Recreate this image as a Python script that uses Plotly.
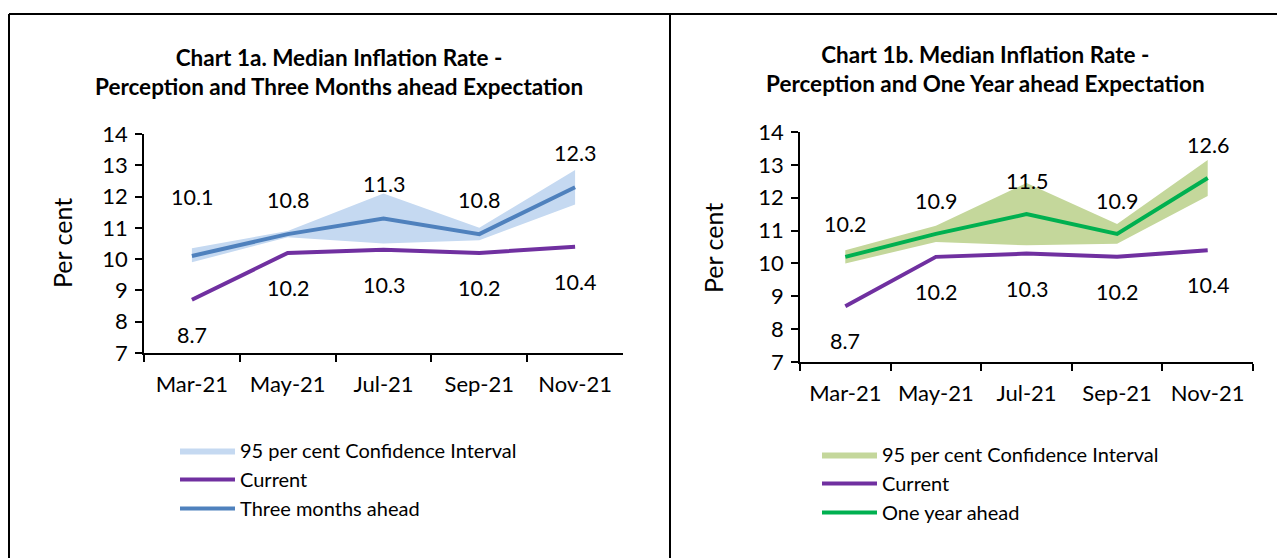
import plotly.graph_objects as go

months = ["Mar-21", "May-21", "Jul-21", "Sep-21", "Nov-21"]
current = [8.7, 10.2, 10.3, 10.2, 10.4]
three_months = [10.1, 10.8, 11.3, 10.8, 12.3]
three_lower = [9.9, 10.7, 10.5, 10.6, 11.75]
three_upper = [10.35, 10.9, 12.1, 11.0, 12.85]
one_year = [10.2, 10.9, 11.5, 10.9, 12.6]
one_lower = [10.0, 10.65, 10.55, 10.6, 12.05]
one_upper = [10.4, 11.15, 12.45, 11.2, 13.15]

# The page body has an 8px margin, so the figure is offset by 8px.
OFF = 8
W, H = 1285 - OFF, 558 - OFF
FONT = "Lato"
PURPLE = "#7030A0"
BLUE = "#4F81BD"
BLUE_BAND = "#C5D9F1"
GREEN = "#00B050"
GREEN_BAND = "#C4D79B"

def px_x(p):
    return (p - OFF) / W

def px_y(p):
    return 1 - (p - OFF) / H

fig = go.Figure()

def add_chart(xa, ya, leg, lower, upper, band_col, exp, exp_col, exp_name, exp_shift):
    fig.add_trace(go.Scatter(x=months, y=lower, xaxis=xa, yaxis=ya, mode="lines",
                             line=dict(width=0, color=band_col), showlegend=False,
                             hoverinfo="skip", legend=leg))
    fig.add_trace(go.Scatter(x=months, y=upper, xaxis=xa, yaxis=ya, mode="lines",
                             line=dict(width=0, color=band_col), fill="tonexty",
                             fillcolor=band_col, name="95 per cent Confidence Interval",
                             legend=leg))
    fig.add_trace(go.Scatter(x=months, y=current, xaxis=xa, yaxis=ya, mode="lines",
                             line=dict(width=4, color=PURPLE), name="Current", legend=leg))
    fig.add_trace(go.Scatter(x=months, y=exp, xaxis=xa, yaxis=ya, mode="lines",
                             line=dict(width=4, color=exp_col), name=exp_name, legend=leg))
    for m, v, s in zip(months, exp, exp_shift):
        fig.add_annotation(x=m, y=v, xref=xa, yref=ya, text=f"{v:.1f}", showarrow=False,
                           xanchor="center", yanchor="middle",
                           yshift=s, font=dict(family=FONT, size=21.5, color="black"))
    for m, v in zip(months, current):
        fig.add_annotation(x=m, y=v, xref=xa, yref=ya, text=f"{v:.1f}", showarrow=False,
                           xanchor="center", yanchor="middle",
                           yshift=-35, font=dict(family=FONT, size=21.5, color="black"))

add_chart("x", "y", "legend", three_lower, three_upper, BLUE_BAND, three_months, BLUE,
          "Three months ahead", [59, 34, 34, 34, 34])
add_chart("x2", "y2", "legend2", one_lower, one_upper, GREEN_BAND, one_year, GREEN,
          "One year ahead", [33, 33, 33, 33, 33])

axis_common = dict(showgrid=False, zeroline=False, showline=True, linecolor="black",
                   linewidth=1.5, ticks="outside", ticklen=7, tickcolor="black",
                   tickwidth=1.5, automargin=False)
xaxis_common = dict(type="category", tickson="boundaries", range=[-0.5, 4.5],
                    ticklabelstandoff=11,
                    tickfont=dict(family=FONT, size=22, color="black"), **axis_common)
yaxis_common = dict(range=[7, 14], dtick=1, ticklabelstandoff=3,
                    tickfont=dict(family=FONT, size=22, color="black"), **axis_common)

legend_common = dict(xanchor="left", yanchor="top", traceorder="normal",
                     font=dict(family=FONT, size=20, color="black"), itemwidth=55,
                     bgcolor="rgba(0,0,0,0)", tracegroupgap=0)

fig.update_layout(
    width=W, height=H, autosize=False,
    margin=dict(l=0, r=0, t=0, b=0, pad=0, autoexpand=False),
    paper_bgcolor="white", plot_bgcolor="white",
    xaxis=dict(domain=[px_x(144), px_x(623)], anchor="y", **xaxis_common),
    yaxis=dict(domain=[px_y(353), px_y(134)], anchor="x", **yaxis_common),
    xaxis2=dict(domain=[px_x(800), px_x(1253)], anchor="y2", **xaxis_common),
    yaxis2=dict(domain=[px_y(362), px_y(132)], anchor="x2", **yaxis_common),
    legend=dict(x=px_x(175), y=px_y(431), **legend_common),
    legend2=dict(x=px_x(817), y=px_y(435), **legend_common),
    showlegend=True,
)

# Titles
fig.add_annotation(x=px_x(339), y=px_y(72), xref="paper", yref="paper", showarrow=False,
                   xanchor="center", yanchor="middle",
                   text="<b>Chart 1a. Median Inflation Rate -<br>Perception and Three Months ahead Expectation</b>",
                   font=dict(family=FONT, size=22.5, color="black"), align="center")
fig.add_annotation(x=px_x(985), y=px_y(69), xref="paper", yref="paper", showarrow=False,
                   xanchor="center", yanchor="middle",
                   text="<b>Chart 1b. Median Inflation Rate -<br>Perception and One Year ahead Expectation</b>",
                   font=dict(family=FONT, size=22.5, color="black"), align="center")
# Y-axis titles
fig.add_annotation(x=px_x(62), y=px_y(243), xref="paper", yref="paper", showarrow=False,
                   xanchor="center", yanchor="middle",
                   text="Per cent", textangle=-90, font=dict(family=FONT, size=25, color="black"))
fig.add_annotation(x=px_x(713), y=px_y(248), xref="paper", yref="paper", showarrow=False,
                   xanchor="center", yanchor="middle",
                   text="Per cent", textangle=-90, font=dict(family=FONT, size=25, color="black"))

# Panel borders
for x0, y0, x1, y1 in [(9, 14, 1285, 14), (9, 14, 9, 558), (670, 14, 670, 558)]:
    fig.add_shape(type="line", xref="paper", yref="paper",
                  x0=px_x(x0), y0=px_y(y0), x1=px_x(x1), y1=px_y(y1),
                  line=dict(color="black", width=2))

fig.write_html("out.html")
